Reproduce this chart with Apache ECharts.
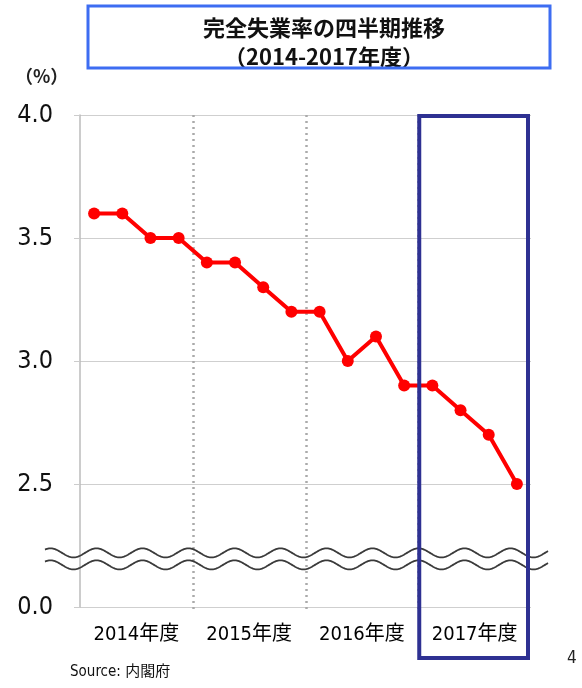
<!DOCTYPE html>
<html>
<head>
<meta charset="utf-8">
<script src="https://cdn.jsdelivr.net/npm/echarts@6/dist/echarts.min.js"></script>
<style>html,body{margin:0;padding:0;background:#fff;}#c{width:582px;height:688px;}</style>
</head>
<body>
<div id="c"></div>
<script>
// ---- data ----
var quarters = ['2014Q1','2014Q2','2014Q3','2014Q4','2015Q1','2015Q2','2015Q3','2015Q4',
                '2016Q1','2016Q2','2016Q3','2016Q4','2017Q1','2017Q2','2017Q3','2017Q4'];
var rates = [3.6, 3.6, 3.5, 3.5, 3.4, 3.4, 3.3, 3.2, 3.2, 3.0, 3.1, 2.9, 2.9, 2.8, 2.7, 2.5];
var years = ['2014年度', '2015年度', '2016年度', '2017年度'];
var yTickValues = [2.0, 2.5, 3.0, 3.5, 4.0];
var yTickLabels = ['0.0', '2.5', '3.0', '3.5', '4.0'];
var highlightYear = '2017年度';

var NARROW = "'DejaVu Sans Condensed', 'Noto Sans CJK JP', sans-serif";
var CJK = "'Noto Sans CJK JP', sans-serif";

var chart = echarts.init(document.getElementById('c'), null, {renderer: 'canvas'});

var GRID = {left: 80, top: 115, width: 451, height: 492};

chart.setOption({
  animation: false,
  backgroundColor: '#fff',
  title: {
    text: '完全失業率の四半期推移\n（2014-2017年度）',
    left: 319, top: 8, textAlign: 'center',
    textStyle: {fontFamily: CJK, fontSize: 22, lineHeight: 29, fontWeight: 'bold', color: '#111'}
  },
  grid: GRID,
  xAxis: [
    {type: 'category', data: quarters, boundaryGap: true, show: false},
    {type: 'category', data: years, boundaryGap: true, position: 'bottom',
     axisLine: {show: false}, axisTick: {show: false},
     axisLabel: {margin: 18, fontFamily: NARROW, fontSize: 20, color: '#000'},
     splitLine: {show: false}}
  ],
  yAxis: {
    type: 'value', min: 2.0, max: 4.0, interval: 0.5,
    axisLine: {show: true, lineStyle: {color: '#bbb', width: 1.5}},
    axisTick: {show: true, length: 6, lineStyle: {color: '#ccc'}},
    axisLabel: {margin: 27, fontFamily: NARROW, fontSize: 25, color: '#111',
      formatter: function (v) {
        var i = yTickValues.indexOf(Math.round(v * 10) / 10);
        return i >= 0 ? yTickLabels[i] : '';
      }},
    splitLine: {show: true, lineStyle: {color: '#cfcfcf', width: 1}}
  },
  series: [{
    type: 'line', xAxisIndex: 0, data: rates,
    symbol: 'circle', symbolSize: 12,
    lineStyle: {color: '#ff0000', width: 4},
    itemStyle: {color: '#ff0000'},
    z: 5
  }]
});

// decorations computed from the axes
function wave(y0, x0, x1) {
  var pts = [];
  var period = 46, amp = 4.5;
  for (var x = x0; x <= x1; x += 1) {
    pts.push([x, y0 - amp * Math.sin((x - x0 + 6) / period * 2 * Math.PI)]);
  }
  return pts;
}
var yTop = chart.convertToPixel({yAxisIndex: 0}, 4.0);
var yBottom = chart.convertToPixel({yAxisIndex: 0}, 2.0);
var yBreak = chart.convertToPixel({yAxisIndex: 0}, 2.22);
var band = GRID.width / years.length;
var cx17 = chart.convertToPixel({xAxisIndex: 1}, highlightYear);

var seps = [];
for (var k = 1; k < years.length; k++) {
  var sx = Math.round(chart.convertToPixel({xAxisIndex: 1}, years[k]) - band / 2) + 0.5;
  seps.push({type: 'line', shape: {x1: sx, y1: yTop, x2: sx, y2: yBottom + 5},
    style: {stroke: '#aaa', lineWidth: 2.5, lineDash: [2, 4]}, z: 1});
}

chart.setOption({
  graphic: seps.concat([
    {type: 'rect', shape: {x: 88, y: 6, width: 462, height: 62},
     style: {fill: 'none', stroke: '#3d6df2', lineWidth: 3}, z: 10},
    {type: 'text', left: 15, top: 67,
     style: {text: '（%）', font: "bold 18px 'Noto Sans CJK JP', sans-serif", fill: '#222'}},
    {type: 'polyline', shape: {points: wave(yBreak, 45, 548), smooth: 0},
     style: {stroke: '#3a3a3a', lineWidth: 1.8, fill: 'none'}, z: 20},
    {type: 'polyline', shape: {points: wave(yBreak + 12, 45, 548), smooth: 0},
     style: {stroke: '#3a3a3a', lineWidth: 1.8, fill: 'none'}, z: 20},
    {type: 'rect', shape: {x: cx17 - band / 2 + 1, y: yTop + 1, width: band - 4, height: 542},
     style: {fill: 'none', stroke: '#2e3192', lineWidth: 4}, z: 30},
    {type: 'text', left: 70, top: 665,
     style: {text: 'Source: 内閣府', font: "15px 'DejaVu Sans Condensed', 'Noto Sans CJK JP', sans-serif", fill: '#111'}},
    {type: 'text', left: 567, top: 650,
     style: {text: '4', font: "17px 'DejaVu Sans Condensed', sans-serif", fill: '#222'}}
  ])
});
</script>
</body>
</html>
